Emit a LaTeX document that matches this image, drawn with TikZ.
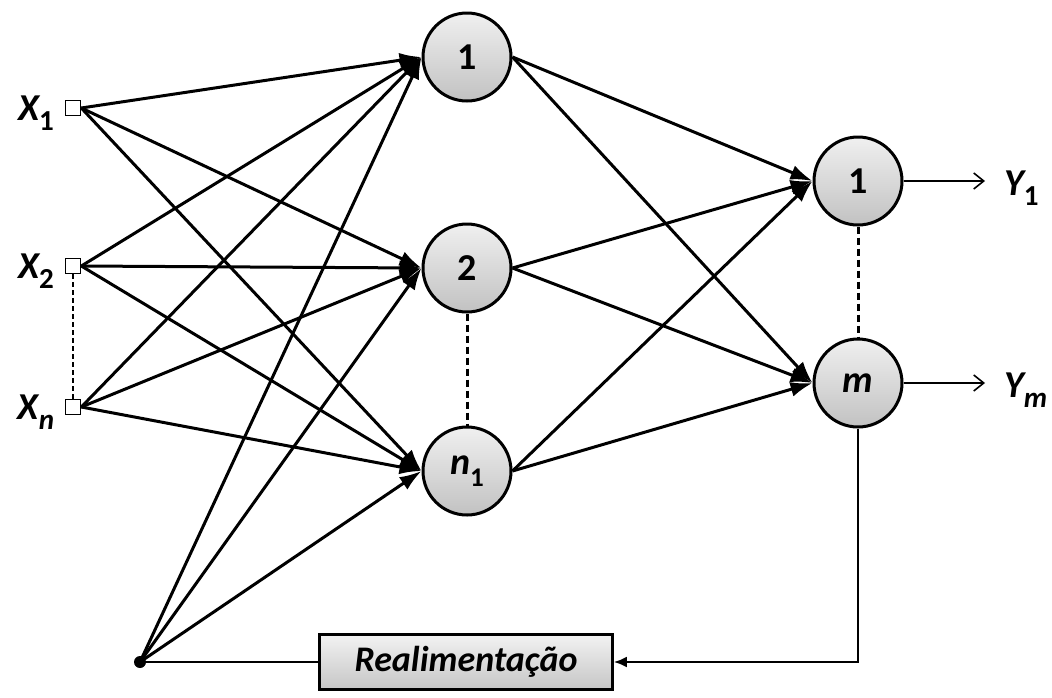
\documentclass[tikz,border=0pt]{standalone}
\usepackage{fontspec}
\setmainfont{Carlito}
\usetikzlibrary{arrows.meta}
\begin{document}
\begin{tikzpicture}[x=1pt,y=-1pt,
  neuron/.style={circle,draw,line width=3pt,minimum size=88pt,inner sep=0pt,
    top color=gray!12,bottom color=gray!48,font=\fontsize{38}{38}\selectfont\bfseries},
  inbox/.style={rectangle,draw,line width=1.6pt,minimum size=15pt,inner sep=0pt,fill=white},
  lbl/.style={font=\fontsize{38}{38}\selectfont\bfseries\itshape,inner sep=0pt},
  conn/.style={line width=3pt,-{Latex[length=22pt,width=15pt]}},
  outarrow/.style={line width=1.6pt,-{Straight Barb[length=10pt,width=16pt]}},
  tdash/.style={line width=3pt,dash pattern=on 7pt off 4pt},
  ldash/.style={line width=1.6pt,dash pattern=on 5pt off 3pt}]
\newcommand{\sbx}[1]{\raisebox{-0.28em}{\fontsize{29}{29}\selectfont #1}}
\useasboundingbox (0,0) rectangle (1052,697);

% input terminals
\node[inbox] (x1) at (73,108) {};
\node[inbox] (x2) at (73,266) {};
\node[inbox] (xn) at (73,407) {};
\node[lbl,anchor=base] (lx1) at (36,120) {X\sbx{\upshape 1}};
\node[lbl,anchor=base] (lx2) at (36,278) {X\sbx{\upshape 2}};
\node[lbl,anchor=base] (lxn) at (36,419) {X\sbx{n}};

% hidden layer
\node[neuron] (h1) at (467,57) {1};
\node[neuron] (h2) at (467,268) {2};
\node[neuron] (hn) at (467,471) {\itshape n\raisebox{-0.3em}{\upshape\fontsize{27}{27}\selectfont 1}};

% output layer
\node[neuron] (o1) at (858,181) {1};
\node[neuron] (om) at (858,383) {\itshape m};

% output labels
\coordinate (y1e) at (985,181);
\coordinate (yme) at (985,383);
\node[lbl,anchor=base west] (ly1) at (1004,195) {Y\sbx{\upshape 1}};
\node[lbl,anchor=base west] (lym) at (1004,397) {Y\sbx{m}};

% bias point and feedback block
\node[circle,fill,inner sep=0pt,minimum size=12pt] (b) at (140,662) {};
\node[draw,line width=2.6pt,minimum width=293pt,minimum height=55pt,inner sep=0pt,
  top color=gray!10,bottom color=gray!45,
  font=\fontsize{36}{36}\selectfont\bfseries\itshape] (fb) at (466,662) {Realimentação};
\coordinate (corner) at (858,662);

% dashed continuation marks
\draw[ldash] (x2.south) -- (xn.north);
\draw[tdash] (h2.south) -- (hn.north);
\draw[tdash] (o1.south) -- (om.north);

% inputs to hidden layer
\foreach \s in {x1,x2,xn}
  \foreach \t in {h1,h2,hn}
    \draw[conn] (\s.east) -- (\t.west);
\foreach \t in {h1,h2,hn}
  \draw[conn] (b.center) -- (\t.west);

% hidden layer to output layer
\foreach \s in {h1,h2,hn}
  \foreach \t in {o1,om}
    \draw[conn] (\s.east) -- (\t.west);

% outputs
\draw[outarrow] (o1.east) -- (y1e);
\draw[outarrow] (om.east) -- (yme);

% feedback path
\draw[line width=2.4pt,-{Latex[length=13pt,width=11pt]}] (om.south) -- (corner) -- (fb.east);
\draw[line width=2.4pt] (fb.west) -- (b.center);
\end{tikzpicture}
\end{document}
